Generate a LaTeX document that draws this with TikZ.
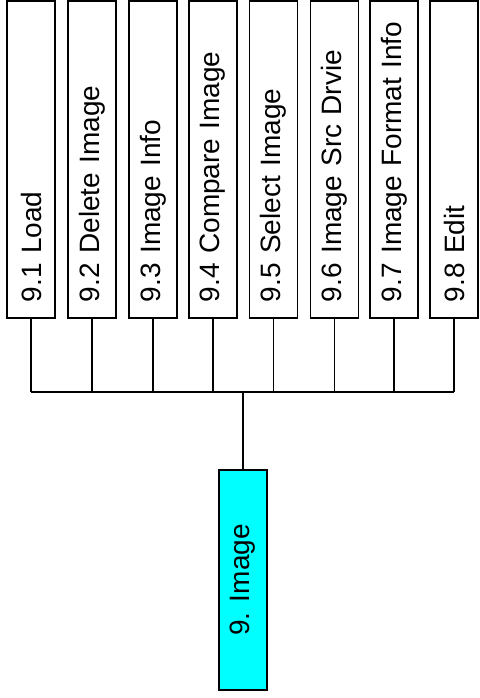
\documentclass[tikz,border=0pt]{standalone}
\usepackage{fontspec}
\setmainfont{Liberation Sans}
\definecolor{rootcyan}{RGB}{0,255,255}
\begin{document}
\begin{tikzpicture}[x=0.5pt,y=-0.5pt,
  leaf/.style={draw=black, line width=0.7pt, fill=white, rotate=90,
    minimum width=158.5pt, minimum height=24pt, inner xsep=8pt, inner ysep=0pt,
    text width=142.5pt, align=left, font=\fontsize{14}{16}\selectfont},
  rootbox/.style={draw=black, line width=0.7pt, fill=rootcyan, rotate=90,
    minimum width=110pt, minimum height=24pt, inner sep=0pt,
    font=\fontsize{14}{16}\selectfont},
  conn/.style={draw=black, line width=0.7pt}]
\useasboundingbox (0,0) rectangle (479,698);
\node[leaf] (b1) at (31,159.5) {9.1 Load};
\node[leaf] (b2) at (92,159.5) {9.2 Delete Image};
\node[leaf] (b3) at (153,159.5) {9.3 Image Info};
\node[leaf] (b4) at (213,159.5) {9.4 Compare Image};
\node[leaf] (b5) at (273.5,159.5) {9.5 Select Image};
\node[leaf] (b6) at (334.5,159.5) {9.6 Image Src Drvie};
\node[leaf] (b7) at (394,159.5) {9.7 Image Format Info};
\node[leaf] (b8) at (454,159.5) {9.8 Edit};
\node[rootbox] (root) at (243,580) {9. Image};
\coordinate (bus) at (243,392);
\foreach \n in {b1,b2,b3,b4,b5,b6,b7,b8}{
  \draw[conn] (\n.west) -- (\n.west |- bus);
}
\draw[conn] (b1.west |- bus) -- (b8.west |- bus);
\draw[conn] (root.east) -- (root.east |- bus);
\end{tikzpicture}
\end{document}
